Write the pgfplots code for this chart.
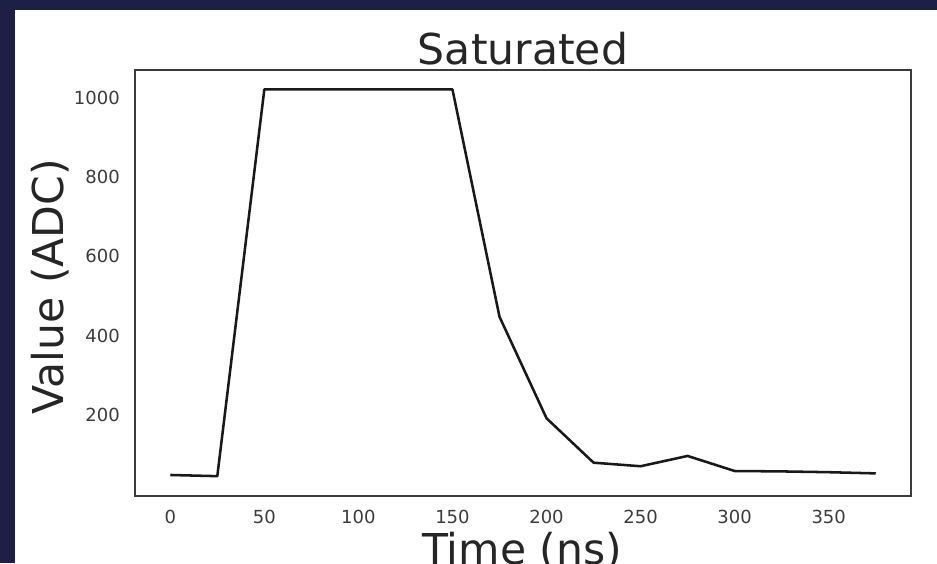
\documentclass[border=0pt]{standalone}
\usepackage{pgfplots}
\pgfplotsset{compat=1.18}
\usepackage{fontspec}
\setmainfont{DejaVu Sans}
\definecolor{frame}{HTML}{1D1F45}
\definecolor{ink}{HTML}{262626}
\begin{document}
\begin{tikzpicture}[x=0.75pt,y=0.75pt]
\useasboundingbox (0,0) rectangle (937,563);
\clip (0,0) rectangle (937,563);
% dark frame with white canvas
\fill[frame] (0,0) rectangle (937,563);
\fill[white] (15,0) rectangle (937,553);
\begin{axis}[
  at={(101.25pt,50.25pt)}, anchor=south west,
  scale only axis, width=582pt, height=319.5pt,
  xmin=-18.75, xmax=393.75, ymin=-4, ymax=1070,
  xtick={0,50,...,350}, ytick={200,400,...,1000},
  major tick length=0pt,
  axis line style={draw=ink!90, line width=1.5pt},
  /pgf/number format/assume math mode=true,
  /pgf/number format/1000 sep={},
  xticklabel style={font=\fontsize{13.5}{16}\selectfont, text=ink!90, inner sep=0pt, anchor=north, yshift=-10.5pt},
  yticklabel style={font=\fontsize{13.5}{16}\selectfont, text=ink!90, inner sep=0pt, anchor=east, xshift=-11.25pt},
]
\addplot[draw=black!90, line width=1.9pt, line join=round, mark=none] coordinates {
  (0,49) (25,46) (50,1021) (75,1021) (100,1021) (125,1021) (150,1021)
  (175,448) (200,192) (225,80) (250,71) (275,97) (300,59) (325,58)
  (350,56) (375,53)
};
\end{axis}
\node[anchor=base, font=\fontsize{31.9}{36}\selectfont, text=ink, inner sep=0pt] at (523,498) {Saturated};
\node[anchor=base, font=\fontsize{31.9}{36}\selectfont, text=ink, inner sep=0pt] at (522,-1) {Time (ns)};
\node[anchor=base, rotate=90, font=\fontsize{31.9}{36}\selectfont, text=ink, inner sep=0pt] at (63,276.5) {Value (ADC)};
\end{tikzpicture}
\end{document}
